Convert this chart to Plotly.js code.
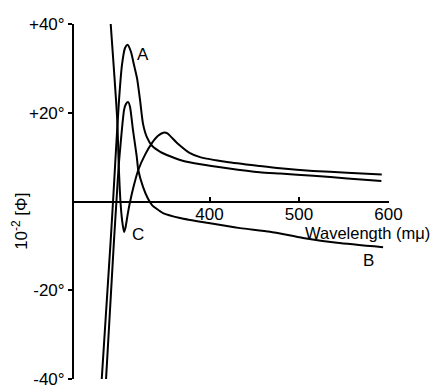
<!DOCTYPE html>
<html>
<head>
<meta charset="utf-8">
<script src="https://cdn.plot.ly/plotly-3.0.1.min.js"></script>
<style>html,body{margin:0;padding:0;background:#fff;}#chart{width:436px;height:386px;}</style>
</head>
<body>
<div id="chart"></div>
<script>
// Wavelength (mμ) and 10^-2 [Φ] values
const waveA = [279.6, 289.6, 292.2, 295.5, 298.9, 302.2, 305.6, 308.4, 312.3, 315.6, 319.0, 322.3, 325.7, 330.0, 336.0, 345.0, 356.0, 370.0, 390.0, 420.0, 456.0, 479.0, 516.0, 554.0, 592.0];
const phiA  = [-40.0, -8.7, 0.0, 11.6, 22.9, 30.8, 34.6, 35.3, 33.7, 30.8, 27.8, 23.0, 17.5, 14.5, 12.5, 11.2, 10.2, 9.2, 8.4, 7.5, 6.6, 6.3, 5.8, 5.2, 4.6];

const waveB = [284.4, 293.3, 296.0, 298.5, 301.1, 304.5, 306.7, 309.2, 311.2, 314.5, 318.7, 320.4, 325.7, 331.3, 335.8, 341.3, 348.0, 367.0, 397.2, 434.1, 467.6, 504.5, 542.5, 593.9];
const phiB  = [-40.0, -8.7, 0.0, 8.0, 14.0, 20.6, 22.0, 22.4, 21.3, 16.1, 10.1, 7.1, 3.3, 0.6, -0.8, -1.7, -2.6, -3.7, -4.8, -6.0, -6.8, -8.2, -9.3, -10.3];

const waveC = [289.6, 296.9, 298.6, 300.5, 302.5, 304.5, 306.0, 308.5, 311.0, 315.6, 320.4, 327.9, 335.8, 342.5, 348.4, 352.5, 363.7, 378.2, 389.4, 419.6, 456.4, 478.8, 515.6, 553.6, 592.4];
const phiC  = [40.0, 18.4, 8.0, 0.0, -4.5, -6.9, -6.0, -3.0, -0.3, 3.7, 7.1, 10.5, 13.2, 14.8, 15.5, 15.4, 13.2, 10.9, 10.0, 8.9, 8.0, 7.5, 6.9, 6.5, 6.1];

const yTickVals = [40, 20, -20, -40];
const yTickText = ["+40°", "+20°", "-20°", "-40°"];
const xTickVals = [400, 500, 600];
const xTickText = ["400", "500", "600"];

const lineStyle = {color: "#000", width: 2, shape: "spline", smoothing: 0.6};
const traces = [
  {x: waveA, y: phiA, mode: "lines", line: lineStyle, name: "A"},
  {x: waveB, y: phiB, mode: "lines", line: lineStyle, name: "B"},
  {x: waveC, y: phiC, mode: "lines", line: lineStyle, name: "C"}
];

const fnt = {family: "Liberation Sans, Arial, sans-serif", size: 17, color: "#000"};
const layout = {
  width: 436, height: 386,
  margin: {l: 74, r: 47, t: 24, b: 7},
  paper_bgcolor: "#fff", plot_bgcolor: "#fff",
  showlegend: false,
  font: fnt,
  xaxis: {
    range: [248.6, 600.5], anchor: "free", position: 0.5,
    showline: true, linewidth: 2, linecolor: "#000",
    showgrid: false, zeroline: false,
    ticks: "inside", ticklen: 4, tickwidth: 2, tickcolor: "#000",
    tickvals: xTickVals, ticktext: xTickText, tickfont: fnt,
    ticklabeloverflow: "allow", ticklabelstandoff: -3
  },
  yaxis: {
    range: [-40, 40],
    showline: true, linewidth: 2, linecolor: "#000",
    showgrid: false, zeroline: false,
    ticks: "outside", ticklen: 4, tickwidth: 2, tickcolor: "#000",
    tickvals: yTickVals, ticktext: yTickText, tickfont: fnt,
    ticklabeloverflow: "allow"
  },
  annotations: [
    {x: 577, y: -7.0, xref: "x", yref: "y", text: "Wavelength (mμ)", showarrow: false, font: {family: fnt.family, size: 16.5, color: "#000"}},
    {x: -0.172, y: -4.4, xref: "paper", yref: "y", xanchor: "center", yanchor: "middle", text: "10<sup>-2</sup> [Φ]", textangle: -90, showarrow: false, font: {family: fnt.family, size: 17, color: "#000"}},
    {x: 325.7, y: 33.2, xref: "x", yref: "y", text: "A", showarrow: false, font: fnt},
    {x: 577.1, y: -13.2, xref: "x", yref: "y", text: "B", showarrow: false, font: fnt},
    {x: 319.6, y: -7.5, xref: "x", yref: "y", text: "C", showarrow: false, font: fnt}
  ]
};
Plotly.newPlot("chart", traces, layout, {displayModeBar: false, staticPlot: true});
</script>
</body>
</html>
